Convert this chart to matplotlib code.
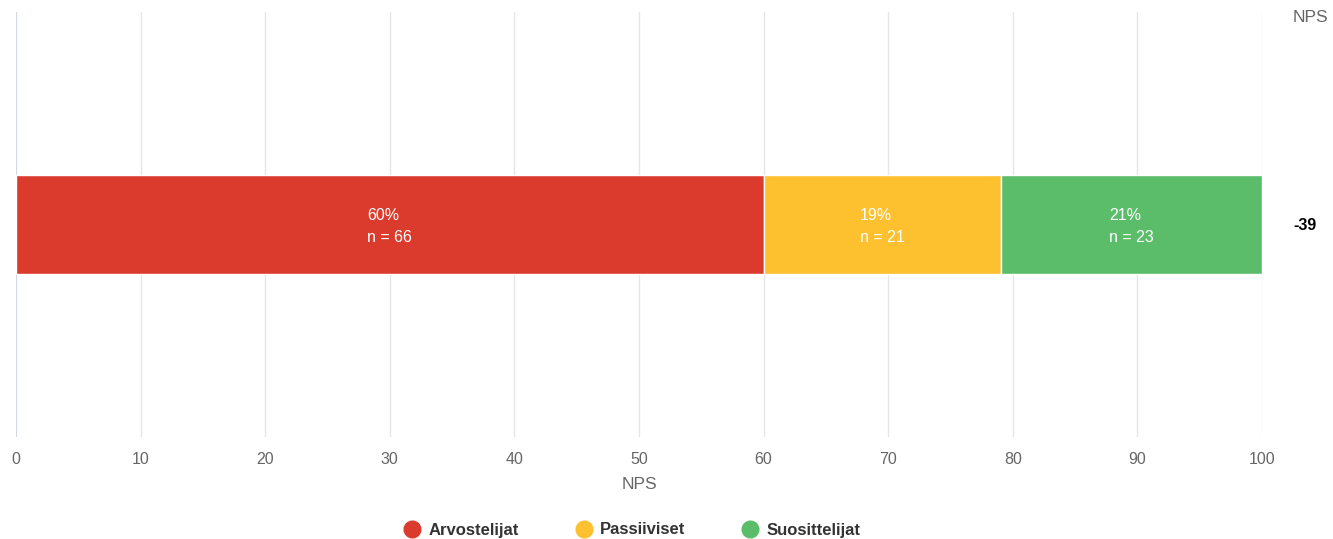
import matplotlib
matplotlib.use("Agg")
import matplotlib.pyplot as plt
from matplotlib.lines import Line2D

plt.rcParams['font.family'] = ['Liberation Sans', 'DejaVu Sans']

categories = ["Arvostelijat", "Passiiviset", "Suosittelijat"]
percents = [60.0, 19.09, 20.91]
counts = [66, 21, 23]
pct_labels = ["60%", "19%", "21%"]
colors = ["#db3b2d", "#fdc02f", "#5bbd6a"]
nps_value = "-39"
xticks = [0, 10, 20, 30, 40, 50, 60, 70, 80, 90, 100]

W, H = 1333, 539
fig = plt.figure(figsize=(W / 100, H / 100), dpi=100)
ax = fig.add_axes([16 / W, (H - 437) / H, (1262 - 16) / W, (437 - 12) / H])

left = 0
for cat, p, n, lab, c in zip(categories, percents, counts, pct_labels, colors):
    ax.barh(0, p, left=left, height=0.47, color=c, edgecolor="white", linewidth=1, zorder=3)
    ax.text(left + p / 2, -0.01, f"{lab}\nn = {n}", ha="center", va="center",
            multialignment="left", color="white", fontsize=11.5, linespacing=1.55, zorder=4)
    left += p

ax.set_xlim(0, 100)
ax.set_ylim(-1, 1)
ax.set_xticks(xticks)
ax.set_xticklabels([str(t) for t in xticks])
ax.set_yticks([])
ax.grid(axis="x", color="#e6e6e6", linewidth=1, zorder=0)
for s in ax.spines.values():
    s.set_visible(False)
ax.axvline(0, color="#ccd6eb", linewidth=1.2, zorder=2)
ax.tick_params(axis="x", length=0, pad=11, labelsize=11.5, labelcolor="#666666")
ax.set_xlabel("NPS", fontsize=12.5, color="#666666", labelpad=7)

fig.text(1310 / W, 1 - 17 / H, "NPS", ha="center", va="center", fontsize=12.5, color="#666666")
fig.text(1305 / W, 1 - 225 / H, nps_value, ha="center", va="center", fontsize=11.5,
         fontweight="bold", color="black")

handles = [Line2D([0], [0], marker="o", linestyle="", markersize=12,
                  markerfacecolor=c, markeredgecolor=c) for c in colors]
leg = fig.legend(handles, categories, loc="center", bbox_to_anchor=(632 / W, 1 - 530 / H),
                 ncol=3, frameon=False, handlelength=1.0, handletextpad=0.48,
                 columnspacing=3.4, prop={"size": 12, "weight": "bold"})
for t in leg.get_texts():
    t.set_color("#333333")

fig.savefig("out.png", dpi=100)
